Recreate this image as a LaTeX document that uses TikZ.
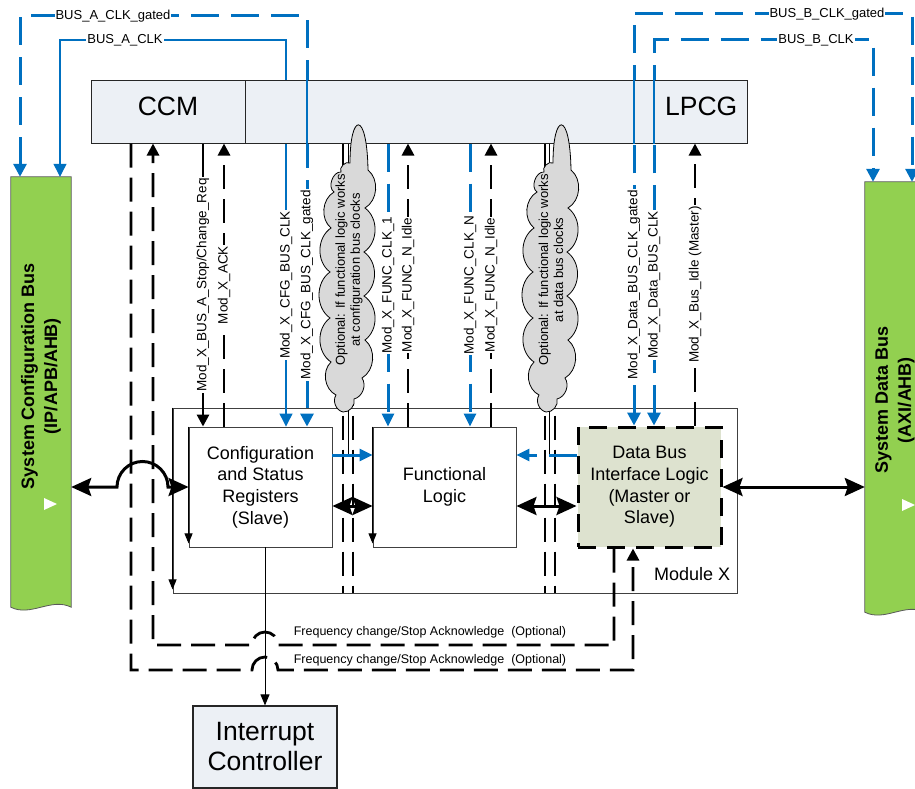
\documentclass[tikz,border=0pt]{standalone}
\usepackage{fontspec}
\setmainfont{Liberation Sans}
\usetikzlibrary{arrows.meta}

\definecolor{clkblue}{RGB}{0,112,192}
\definecolor{busgreen}{RGB}{146,208,80}
\definecolor{barfill}{RGB}{236,240,245}
\definecolor{dbfill}{RGB}{221,226,207}
\definecolor{cloudgray}{RGB}{217,217,217}

\begin{document}
\begin{tikzpicture}[x=1pt, y=-1pt,
  >={Triangle[width=12pt,length=12pt]},
  box/.style={draw=black!75, line width=0.9pt, fill=white, minimum width=143pt, minimum height=120pt, align=center, font=\fontsize{18}{21.7}\selectfont},
  barbox/.style={draw=black!85, line width=1pt, fill=barfill, minimum height=62pt},
  clk/.style={draw=clkblue, line width=1.2pt},
  clkdash/.style={draw=clkblue, line width=3pt, dash pattern=on 28pt off 12pt},
  btip/.style={-{Triangle[width=12pt,length=13pt]}},
  sig/.style={line width=2.8pt, dash pattern=on 24pt off 10pt},
  sigsolid/.style={line width=2.8pt},
  tag/.style={fill=white, inner sep=1pt, font=\fontsize{13}{16}\selectfont},
  vtag/.style={tag, font=\fontsize{13.5}{16}\selectfont, rotate=90},
  bigarr/.style={line width=3pt, {Stealth[width=18pt,length=20pt,inset=3pt]}-{Stealth[width=18pt,length=20pt,inset=3pt]}},
  puff/.style={bend left=55},
  freq/.style={font=\fontsize{12.5}{14}\selectfont}]

\useasboundingbox (0,0) rectangle (915,789);

% Module X frame and its blocks
\node[draw=black!75, line width=0.9pt, minimum width=564pt, minimum height=185pt] (modx) at (455,500.5) {};
\node[anchor=south east, inner sep=0pt, font=\fontsize{18}{20}\selectfont] (modxlbl) at ([shift={(-7pt,13pt)}]modx.south east) {Module X};

\node[box] (cfg) at (260.5,487) {Configuration\\and Status\\Registers\\(Slave)};
\node[box] (func) at (444.5,487) {Functional\\Logic};
\node[box, fill=dbfill, draw=black, line width=3pt, dash pattern=on 18pt off 11pt] (dbil) at (649.5,487) {Data Bus\\Interface Logic\\(Master or\\Slave)};

\foreach \n in {cfg,func,modx}
  \draw[line width=0.9pt, -{Triangle[width=8pt,length=10pt]}] (\n.north west) -- ([yshift=4pt]\n.south west);

% System buses
\node[minimum width=60pt, minimum height=430pt, inner sep=0pt] (cfgbus) at (41,392) {};
\node[minimum width=60pt, minimum height=430pt, inner sep=0pt] (datbus) at (895,397) {};
\foreach \b in {cfgbus,datbus}
  \filldraw[fill=busgreen, draw=black!65, line width=0.8pt] (\b.south west) -- (\b.north west) -- (\b.north east) -- (\b.south east)
    .. controls ([shift={(-20pt,10pt)}]\b.south east) and ([shift={(20pt,-10pt)}]\b.south west) .. (\b.south west) -- cycle;
\node[rotate=90, align=center, font=\bfseries\fontsize{18}{23}\selectfont] (cfgbustxt) at (41,376) {System Configuration Bus\\(IP/APB/AHB)};
\node[rotate=90, align=center, font=\bfseries\fontsize{18}{23}\selectfont] (datbustxt) at (895,400) {System Data Bus\\(AXI/AHB)};
\fill[white] (44,498) -- (57,504) -- (44,510) -- cycle;
\fill[white] (902,499) -- (915,505) -- (902,511) -- cycle;

% Bus clocks (they run under the CCM/LPCG bar)
\draw[clkdash, {Triangle[width=13pt,length=13pt]}-{Triangle[width=13pt,length=13pt]}] (20,0 |- cfgbus.north) -- (20,16) -- (307,16) -- (cfg.north -| 307,0);
\draw[clk, {Triangle[width=13pt,length=13pt]}-{Triangle[width=13pt,length=13pt]}] (60,0 |- cfgbus.north) -- (60,40) -- (286,40) -- (cfg.north -| 286,0);
\draw[clkdash, {Triangle[width=13pt,length=13pt]}-{Triangle[width=13pt,length=13pt]}] (634,0 |- dbil.north) -- (634,14) -- (912,14) -- (912,0 |- datbus.north);
\draw[clkdash, {Triangle[width=13pt,length=13pt]}-{Triangle[width=13pt,length=13pt]}] (654,0 |- dbil.north) -- (654,40) -- (873,40) -- (873,0 |- datbus.north);

% CCM / LPCG bar
\node[barbox, minimum width=154pt, label={[font=\fontsize{26.5}{30}\selectfont, yshift=6pt]center:CCM}] (ccm) at (168,112) {};
\node[barbox, minimum width=502pt, label={[font=\fontsize{26.5}{30}\selectfont, anchor=east, inner sep=0pt, xshift=-10pt, yshift=6pt]east:LPCG}] (lpcg) at (496,112) {};
\foreach \x in {307,634,654}
  \draw[clk] (\x,0 |- lpcg.north) -- (\x,0 |- lpcg.south);

\node[tag] (bacg) at (113,16) {BUS\_A\_CLK\_gated};
\node[tag] (bac) at (125,40) {BUS\_A\_CLK};
\node[tag] (bbcg) at (827,14) {BUS\_B\_CLK\_gated};
\node[tag] (bbc) at (816,40) {BUS\_B\_CLK};
\node[vtag] (cfgclkg) at (307,285) {Mod\_X\_CFG\_BUS\_CLK\_gated};
\node[vtag] (cfgclkl) at (286,285) {Mod\_X\_CFG\_BUS\_CLK};
\node[vtag] (dbclkg) at (634,285) {Mod\_X\_Data\_BUS\_CLK\_gated};
\node[vtag] (dbclkl) at (654,285) {Mod\_X\_Data\_BUS\_CLK};

% Control signals to and from the bar
\draw[sigsolid, ->] (203,0 |- ccm.south) -- (cfg.north -| 203,0) node[vtag, midway] {Mod\_X\_BUS\_A\_Stop/Change\_Req};
\draw[sig, ->] (cfg.north -| 224,0) -- (224,0 |- ccm.south) node[vtag, midway] {Mod\_X\_ACK};
\draw[clkdash, btip] (388,0 |- lpcg.south) -- (func.north -| 388,0) node[vtag, midway] {Mod\_X\_FUNC\_CLK\_1};
\draw[sig, ->] (func.north -| 408,0) -- (408,0 |- lpcg.south) node[vtag, midway] {Mod\_X\_FUNC\_N\_Idle};
\draw[clkdash, btip] (470,0 |- lpcg.south) -- (func.north -| 470,0) node[vtag, midway] {Mod\_X\_FUNC\_CLK\_N};
\draw[sig, ->] (func.north -| 491,0) -- (491,0 |- lpcg.south) node[vtag, midway] {Mod\_X\_FUNC\_N\_Idle};
\draw[sig, ->] (dbil.north -| 695,0) -- (695,0 |- lpcg.south) node[vtag, midway] {Mod\_X\_Bus\_Idle (Master)};

% Optional clock paths through the module
\foreach \x in {343,353,545,555}
  \draw[sig] (\x,0 |- lpcg.south) -- (modx.south -| \x,0);

\coordinate (cfgclk) at ([yshift=32pt]cfg.east);
\coordinate (dbclk) at ([yshift=32pt]dbil.west);
\draw[line width=0.6pt] (348,0 |- lpcg.south) -- (cfgclk -| 348,0);
\draw[line width=0.6pt] (549,0 |- lpcg.south) -- (dbclk -| 549,0);

% Clouds
\foreach \cx in {0,203}
  \filldraw[draw=black, line width=0.8pt, fill=cloudgray, xshift=\cx pt]
    (343,412) to[puff] (336,395) to[puff] (331,362) to[puff] (330,318) to[puff] (330,272) to[puff] (331,228)
    to[puff] (334,192) to[bend left=75] (341,172) to[bend left=75] (350,163)
    .. controls (350,112) and (367,110) .. (368,170)
    to[puff] (365,208) to[puff] (364,252) to[puff] (364,296) to[puff] (365,340) to[puff] (362,378)
    to[puff] (354,399) to[puff] (343,412) -- cycle;
\node[rotate=90, align=center, font=\fontsize{13}{15}\selectfont] (optcfgtxt) at (349,270) {Optional: If functional logic works\\at configuration bus clocks};
\node[rotate=90, align=center, font=\fontsize{13}{15}\selectfont] (optdbtxt) at (551,270) {Optional: If functional logic works\\at data bus clocks};

\draw[clkdash, dash pattern=, btip] (cfgclk) -- (cfgclk -| func.west);
\draw[clkdash, btip] (dbclk) -- (dbclk -| func.east);

% Data paths
\draw[bigarr] ([yshift=-19pt]cfg.east) -- ([yshift=-19pt]func.west);
\draw[bigarr] ([yshift=-19pt]func.east) -- ([yshift=-19pt]dbil.west);
\draw[bigarr] (dbil.east) -- (dbil.east -| datbus.west);
\draw[bigarr] (cfgbus.east |- cfg.west) -- (117,487) arc[start angle=180, end angle=0, radius=25.5pt] -- (cfg.west);

% Interrupt
\node[draw=black!85, line width=1.2pt, fill=barfill, minimum width=144pt, minimum height=82pt, align=center, font=\fontsize{26.5}{30}\selectfont] (intc) at (265,747) {Interrupt\\Controller};
\draw[line width=0.9pt, -{Triangle[width=9pt,length=11pt]}] (cfg.south -| intc.north) -- (intc.north);

% Frequency change / stop acknowledge loops
\draw[sig, ->] (614,0 |- dbil.south) -- (614,645) -- (278,645) arc[start angle=0, end angle=180, radius=13pt] -- (153,645) -- (153,0 |- ccm.south);
\draw[sig, ->] (131,0 |- ccm.south) -- (131,670) -- (252,670) arc[start angle=180, end angle=0, radius=13pt] -- (633,670) -- (dbil.south -| 633,0);
\node[freq] (ackin) at (430,632) {Frequency change/Stop Acknowledge\ \ (Optional)};
\node[freq] (ackout) at (430,660) {Frequency change/Stop Acknowledge\ \ (Optional)};

\end{tikzpicture}
\end{document}
